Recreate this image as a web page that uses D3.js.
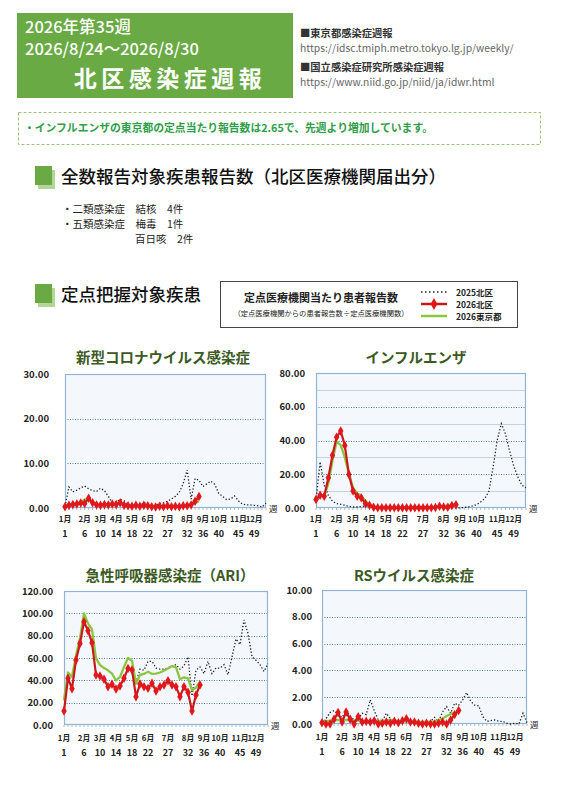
<!DOCTYPE html>
<html><head><meta charset="utf-8">
<script src="https://cdn.jsdelivr.net/npm/d3@7"></script>
<style>
body{margin:0;background:#fff;}
svg{display:block;}
text{font-family:"Noto Sans CJK JP","Noto Sans",sans-serif;}
</style></head><body>
<svg id="c" width="562" height="800"></svg>
<script>
// ---------- data ----------
const weeks = d3.range(1, 53);
const monthLabels = ["1月","2月","3月","4月","5月","6月","7月","8月","9月","10月","11月","12月"];
const monthWeeks = [1,6,10,14,18,22,27,32,36,40,45,49];
const weekTickLabels = [1,6,10,14,18,22,27,32,36,40,45,49];

const covid2025 = [0.3,4.7,3.6,4.0,4.5,4.9,4.3,3.9,3.7,4.4,3.9,2.6,1.2,1.4,1.9,1.6,0.8,0.6,0.7,0.5,1.2,1.0,0.5,0.6,1.0,1.2,1.5,2.0,2.6,3.5,5.5,8.5,2.0,6.6,6.2,4.8,5.4,6.0,5.3,3.3,2.6,1.9,2.0,2.7,1.6,0.9,0.7,0.7,0.6,0.5,0.2,1.1];
const covid2026 = [0.3,0.6,0.8,0.9,1.1,1.0,2.2,1.2,0.7,0.6,0.8,0.7,0.9,0.8,1.2,0.6,0.5,0.4,0.6,0.4,0.6,0.5,0.3,0.2,0.4,0.3,0.5,0.3,0.4,0.3,0.5,0.5,0.7,1.5,2.6];
const covidTokyo = [0.4,0.7,0.9,1.1,1.3,1.9,1.8,1.1,0.8,0.7,0.8,0.8,0.9,0.9,1.0,0.7,0.6,0.5,0.5,0.4,0.5,0.5,0.4,0.3,0.4,0.4,0.4,0.4,0.4,0.4,0.5,0.5,0.7,1.1,1.5];

const flu2025 = [4.5,27.4,13.5,7.5,4.0,2.6,2.2,1.6,1.0,0.6,0.6,0.9,1.2,1.0,0.6,0.4,0.3,0.2,0.2,0.2,0.1,0.1,0.1,0.1,0.1,0.1,0.1,0.1,0.1,0.1,0.1,0.1,0.1,0.1,0.1,0.1,0.3,0.6,1.2,2.0,3.6,5.6,10.0,24.0,40.0,50.0,44.0,34.0,25.0,18.5,13.5,12.0];
const flu2026 = [5.0,7.5,7.0,17.9,31.3,42.0,45.6,37.1,19.8,10.1,7.0,6.0,2.6,1.6,0.4,0.1,0.1,0.1,0.1,0.1,0.1,0.1,0.1,0.1,0.1,0.1,0.1,0.1,0.2,0.3,1.0,0.6,0.5,1.5,1.9];
const fluTokyo = [4.5,7.0,7.2,14.5,28.0,39.3,37.3,30.0,20.5,12.0,8.5,7.5,4.0,2.0,0.8,0.4,0.3,0.2,0.2,0.2,0.2,0.2,0.2,0.2,0.3,0.3,0.4,0.5,0.6,0.7,0.9,1.1,1.4,1.9,2.65];

const ari2025 = [null,null,null,null,null,null,null,null,null,null,null,null,null,null,null,null,null,null,38,50,49,57,57,51,50,50,51,53,54,50,53,61,26,49,52,46,57,46,51,51,54,45,61,77,72,94,82,61,58,54,48,55];
const ari2026 = [12.5,41.8,32.5,58.2,73.0,92.5,84.5,73.7,44.8,43.9,40.9,34.3,36.4,32.2,35.0,41.8,50.7,49.3,25.4,36.7,34.3,32.8,37.3,30.4,34.3,35.8,39.7,35.8,34.3,25.4,34.3,29.3,12.5,26.9,35.8];
const ariTokyo = [22,47,43,62,78,100,91,85.7,59.7,53.7,51,49,46,40,43,52,60,57.6,37,45,45.7,47.8,45.7,46,47,48.7,50.7,52.8,51.6,40.9,42.7,41.8,31.3,33.4,38.8];

const rs2025 = [0.05,0.4,0.85,1.0,0.7,0.5,1.0,0.6,0.3,0.4,0.8,0.7,1.8,1.0,0.3,0.2,0.8,0.4,0.1,0.2,0.15,0.2,0.1,0.1,0.1,0.1,0.15,0.2,0.5,0.2,0.9,1.3,0.8,1.55,1.4,1.8,2.35,1.7,1.4,1.35,0.55,0.2,0.25,0.3,0.2,0.2,0.05,0.0,0.05,0.0,0.8,0.1];
const rs2026 = [0.1,0.0,0.0,0.35,0.85,0.15,0.9,0.35,0.0,0.55,0.15,0.2,0.15,0.25,0.0,0.05,0.15,0.05,0.2,0.1,0.25,0.4,0.15,0.15,0.05,0.0,0.05,0.0,0.0,0.05,0.15,0.0,0.3,0.7,1.0];
const rsTokyo = [0.2,0.2,0.25,0.25,0.3,0.25,0.3,0.3,0.25,0.25,0.2,0.2,0.2,0.2,0.2,0.25,0.25,0.3,0.25,0.2,0.2,0.2,0.2,0.15,0.15,0.15,0.15,0.15,0.2,0.3,0.4,0.6,0.75,0.85,0.95];

const legendLabels = ["2025北区","2026北区","2026東京都"];

// ---------- drawing ----------
const svg = d3.select("#c");
const GREEN = "#6aaa44", RED = "#e0181c", REDLINE = "#c81a1c", TOKYO = "#8cc63f";

// header
svg.append("rect").attr("x",17).attr("y",13).attr("width",276).attr("height",85).attr("fill",GREEN);
svg.append("text").attr("x",25).attr("y",33).attr("fill","#fff").attr("font-size",16.5).attr("font-weight",500).text("2026年第35週");
svg.append("text").attr("x",25).attr("y",55).attr("fill","#fff").attr("font-size",16.5).attr("font-weight",500).text("2026/8/24～2026/8/30");
svg.append("text").attr("x",170).attr("y",87).attr("text-anchor","middle").attr("fill","#fff").attr("font-size",23).attr("font-weight",700).attr("letter-spacing",4.5).text("北区感染症週報");

const links = [["■東京都感染症週報",37],["https://idsc.tmiph.metro.tokyo.lg.jp/weekly/",52],["■国立感染症研究所感染症週報",71],["https://www.niid.go.jp/niid/ja/idwr.html",86]];
links.forEach((l,i)=>{
  svg.append("text").attr("x",300).attr("y",l[1]).attr("font-size",10.3)
    .attr("font-weight",i%2===0?700:400).attr("fill",i%2===0?"#333":"#666").text(l[0]);
});

// notice
svg.append("rect").attr("x",18.5).attr("y",112.5).attr("width",522).attr("height",32).attr("fill","none")
  .attr("stroke","#9cc27a").attr("stroke-width",1).attr("stroke-dasharray","3,2");
svg.append("text").attr("x",24).attr("y",132).attr("font-size",10.8).attr("font-weight",700).attr("fill","#2f9e4a")
  .text("・インフルエンザの東京都の定点当たり報告数は2.65で、先週より増加しています。");

function sectionHead(y, label){
  svg.append("rect").attr("x",38).attr("y",y+4).attr("width",17).attr("height",19).attr("fill","#b3d597");
  svg.append("rect").attr("x",35).attr("y",y).attr("width",17).attr("height",19).attr("fill",GREEN);
  svg.append("text").attr("x",61).attr("y",y+17).attr("font-size",17.5).attr("font-weight",500).attr("fill","#111").text(label);
}
sectionHead(166, "全数報告対象疾患報告数（北区医療機関届出分）");
[["・二類感染症　結核　4件",62,213],["・五類感染症　梅毒　1件",62,228],["百日咳　2件",135,243]].forEach(t=>{
  svg.append("text").attr("x",t[1]).attr("y",t[2]).attr("font-size",10.5).attr("fill","#222").text(t[0]);
});
sectionHead(284, "定点把握対象疾患");

// legend box
svg.append("rect").attr("x",220.5).attr("y",281.5).attr("width",297).attr("height",46).attr("fill","#fff").attr("stroke","#444").attr("stroke-width",1);
svg.append("text").attr("x",321).attr("y",302).attr("text-anchor","middle").attr("font-size",11).attr("font-weight",700).attr("fill","#222").text("定点医療機関当たり患者報告数");
svg.append("text").attr("x",321).attr("y",316).attr("text-anchor","middle").attr("font-size",7.3).attr("fill","#222").text("（定点医療機関からの患者報告数÷定点医療機関数）");
const ly = [292, 304, 316];
svg.append("line").attr("x1",421).attr("x2",447).attr("y1",ly[0]).attr("y2",ly[0]).attr("stroke","#222").attr("stroke-width",1.5).attr("stroke-dasharray","1.5,2.5");
svg.append("line").attr("x1",421).attr("x2",447).attr("y1",ly[1]).attr("y2",ly[1]).attr("stroke",REDLINE).attr("stroke-width",2.5);
svg.append("path").attr("d",d3.symbol(d3.symbolDiamond,40)()).attr("transform",`translate(434,${ly[1]})`).attr("fill",RED);
svg.append("line").attr("x1",421).attr("x2",447).attr("y1",ly[2]).attr("y2",ly[2]).attr("stroke",TOKYO).attr("stroke-width",2.5);
legendLabels.forEach((t,i)=>{
  svg.append("text").attr("x",456).attr("y",ly[i]+3.5).attr("font-size",8.5).attr("font-weight",700).attr("fill","#222").text(t);
});

function drawChart(cfg){
  const g = svg.append("g");
  const x = d3.scalePoint().domain(weeks).range([cfg.left, cfg.right]);
  const y = d3.scaleLinear().domain([0, cfg.max]).range([cfg.bottom, cfg.top]);
  g.append("rect").attr("x",cfg.left).attr("y",cfg.top).attr("width",cfg.right-cfg.left).attr("height",cfg.bottom-cfg.top).attr("fill","#f4f8fc");
  if (cfg.minor){
    d3.range(cfg.minor, cfg.max, cfg.step).forEach(v=>{
      g.append("line").attr("x1",cfg.left).attr("x2",cfg.right).attr("y1",Math.round(y(v))+0.5).attr("y2",Math.round(y(v))+0.5)
        .attr("stroke","#c7d2de").attr("stroke-width",1);
    });
  }
  d3.range(cfg.step, cfg.max, cfg.step).forEach(v=>{
    g.append("line").attr("x1",cfg.left).attr("x2",cfg.right).attr("y1",Math.round(y(v))+0.5).attr("y2",Math.round(y(v))+0.5)
      .attr("stroke","#4f7ea8").attr("stroke-width",1).attr("stroke-dasharray","1,1.5");
  });
  g.append("rect").attr("x",cfg.left+0.5).attr("y",cfg.top+0.5).attr("width",cfg.right-cfg.left-1).attr("height",cfg.bottom-cfg.top-1)
    .attr("fill","none").attr("stroke","#93b3d3").attr("stroke-width",1.2);
  weeks.forEach(w=>{
    g.append("line").attr("x1",x(w)).attr("x2",x(w)).attr("y1",cfg.bottom).attr("y2",cfg.bottom+2).attr("stroke","#93a9bf").attr("stroke-width",0.8);
  });
  const ax = g.append("g").attr("transform",`translate(${cfg.labelEnd},0)`)
    .call(d3.axisLeft(y).tickValues(d3.range(0, cfg.max+0.001, cfg.step)).tickSize(0).tickPadding(0).tickFormat(d3.format(".2f")));
  ax.select(".domain").remove();
  ax.selectAll("text").attr("font-family","'Liberation Sans',Arial,sans-serif").attr("font-size",9.5).attr("font-weight",700).attr("fill","#222");
  monthLabels.forEach((m,i)=>{
    g.append("text").attr("x",x(monthWeeks[i])).attr("y",cfg.monthY).attr("text-anchor","middle").attr("font-size",7.8).attr("font-weight",700).attr("fill","#222").text(m);
  });
  weekTickLabels.forEach(w=>{
    g.append("text").attr("x",x(w)).attr("y",cfg.weekY).attr("text-anchor","middle").attr("font-family","'Liberation Sans',Arial,sans-serif").attr("font-size",9).attr("font-weight",700).attr("fill","#222").text(w);
  });
  g.append("text").attr("x",cfg.right+3).attr("y",cfg.bottom+4).attr("font-size",8.5).attr("fill","#222").text("週");
  g.append("text").attr("x",cfg.titleX).attr("y",cfg.titleY).attr("text-anchor","middle").attr("font-size",14.5).attr("font-weight",700).attr("fill","#3c5a1f").text(cfg.title);
  const line = d3.line().defined(d=>d!=null).x((d,i)=>x(i+1)).y(d=>y(d));
  g.append("path").datum(cfg.s2025).attr("d",line).attr("fill","none").attr("stroke","#222").attr("stroke-width",1.3).attr("stroke-dasharray","1.3,2");
  g.append("path").datum(cfg.tokyo).attr("d",line).attr("fill","none").attr("stroke",TOKYO).attr("stroke-width",2.3).attr("stroke-linejoin","round");
  g.append("path").datum(cfg.kita).attr("d",line).attr("fill","none").attr("stroke",REDLINE).attr("stroke-width",2.2).attr("stroke-linejoin","round");
  g.selectAll(".mk").data(cfg.kita).enter().append("path")
    .attr("d",d3.symbol(d3.symbolDiamond,26)()).attr("transform",(d,i)=>`translate(${x(i+1)},${y(d)})`).attr("fill",RED);
}

drawChart({left:65,right:266,top:374,bottom:508,max:30,step:10,labelEnd:49,title:"新型コロナウイルス感染症",titleX:163,titleY:363,monthY:522,weekY:537,s2025:covid2025,kita:covid2026,tokyo:covidTokyo});
drawChart({left:316,right:526,top:373,bottom:508,max:80,step:20,minor:10,labelEnd:305,title:"インフルエンザ",titleX:416,titleY:363,monthY:522,weekY:537,s2025:flu2025,kita:flu2026,tokyo:fluTokyo});
drawChart({left:64,right:268,top:591,bottom:725,max:120,step:20,labelEnd:53,title:"急性呼吸器感染症（ARI）",titleX:170,titleY:581,monthY:741,weekY:756,s2025:ari2025,kita:ari2026,tokyo:ariTokyo});
drawChart({left:322,right:527,top:590,bottom:724,max:10,step:2,labelEnd:312,title:"RSウイルス感染症",titleX:414,titleY:581,monthY:740,weekY:755,s2025:rs2025,kita:rs2026,tokyo:rsTokyo});
</script>
</body></html>
